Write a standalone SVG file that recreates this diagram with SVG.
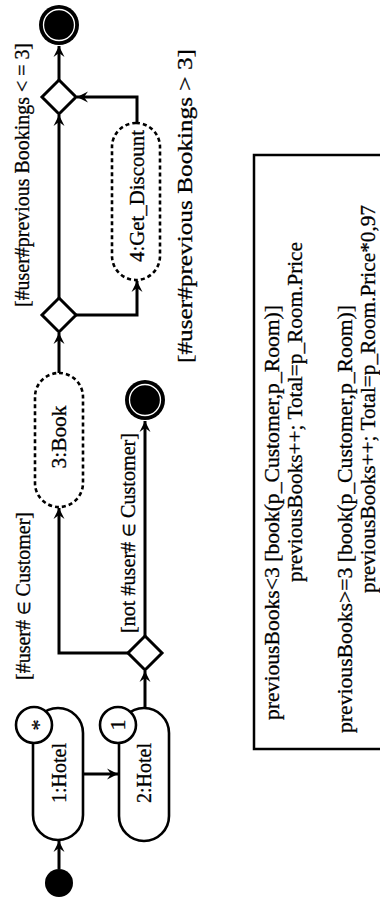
<svg xmlns="http://www.w3.org/2000/svg" width="380" height="917" viewBox="0 0 380 917">
<style>
text{font-family:"Liberation Serif","Times New Roman",serif;font-size:22px;fill:#000;stroke:#000;stroke-width:0.3}
.node{fill:#fff;stroke:#000;stroke-width:2.6}
.dash{fill:#fff;stroke:#000;stroke-width:2.6;stroke-dasharray:4 3}
.dia{fill:#fff;stroke:#000;stroke-width:3}
.conn{fill:none;stroke:#000;stroke-width:3;marker-end:url(#arr)}
.c{text-anchor:middle}
.sm{font-size:17px}
</style>
<defs>
<marker id="arr" markerUnits="userSpaceOnUse" markerWidth="14" markerHeight="14" viewBox="-12 -7 14 14" refX="0" refY="0" orient="auto">
<path d="M0,0 L-11,-5.5 L-7,0 L-11,5.5 Z" fill="#000"/>
</marker>
</defs>
<rect width="380" height="917" fill="#fff"/>

<g id="connectors">
<path class="conn" d="M59,869 V841"/>
<path class="conn" d="M83,774 H118"/>
<path class="conn" d="M145,708 V671"/>
<path class="conn" d="M128,653 H59 V508"/>
<path class="conn" d="M145,636 V421"/>
<path class="conn" d="M59,373 V333"/>
<path class="conn" d="M59,298 V115"/>
<path class="conn" d="M76,315 H137 V281"/>
<path class="conn" d="M137,123 V97 H77"/>
<path class="conn" d="M59,80 V46"/>
</g>

<g id="initial">
<circle cx="59" cy="883" r="14" fill="#000"/>
</g>

<g id="hotel1">
<rect class="node" x="33" y="708" width="50" height="132" rx="25"/>
<text class="c" transform="translate(66,773) rotate(-90)" textLength="60" lengthAdjust="spacingAndGlyphs">1:Hotel</text>
<circle class="node" cx="34" cy="725" r="18"/>
<text class="c" transform="translate(46,725) rotate(-90)">*</text>
</g>

<g id="hotel2">
<rect class="node" x="119" y="708" width="50" height="133" rx="25"/>
<text class="c" transform="translate(151,773) rotate(-90)" textLength="60" lengthAdjust="spacingAndGlyphs">2:Hotel</text>
<circle class="node" cx="118" cy="725" r="18"/>
<text class="c" transform="translate(125,725) rotate(-90)">1</text>
</g>

<g id="decision1">
<path class="dia" d="M145,636 L162,653 L145,670 L128,653 Z"/>
</g>

<g id="final1">
<circle cx="145" cy="400" r="20" fill="#000"/>
<circle cx="145" cy="400" r="15.5" fill="none" stroke="#fff" stroke-width="1.3"/>
</g>

<g id="book">
<rect class="dash" x="35" y="373" width="48" height="134" rx="24"/>
<text class="c" transform="translate(66,437) rotate(-90)" textLength="63" lengthAdjust="spacingAndGlyphs">3:Book</text>
</g>

<g id="decision2">
<path class="dia" d="M59,298 L76,315 L59,332 L42,315 Z"/>
</g>

<g id="discount">
<rect class="dash" x="112" y="123" width="48" height="157" rx="24"/>
<text class="c" transform="translate(144,196) rotate(-90)" textLength="132" lengthAdjust="spacingAndGlyphs">4:Get_Discount</text>
</g>

<g id="decision3">
<path class="dia" d="M59,80 L76,97 L59,114 L42,97 Z"/>
</g>

<g id="final2">
<circle cx="59" cy="25" r="20" fill="#000"/>
<circle cx="59" cy="25" r="15.5" fill="none" stroke="#fff" stroke-width="1.3"/>
</g>

<g id="labels">
<text class="c" transform="translate(30,596) rotate(-90)" textLength="168" lengthAdjust="spacingAndGlyphs">[#user# <tspan class="sm">∈</tspan> Customer]</text>
<text class="c" transform="translate(135,533) rotate(-90)" textLength="200" lengthAdjust="spacingAndGlyphs">[not #user# <tspan class="sm">∈</tspan> Customer]</text>
<text class="c" transform="translate(29,175) rotate(-90)" textLength="264" lengthAdjust="spacingAndGlyphs">[#user#previous Bookings &lt; = 3]</text>
<text class="c" transform="translate(192,206) rotate(-90)" textLength="314" lengthAdjust="spacingAndGlyphs">[#user#previous Bookings &gt; 3]</text>
</g>

<g id="note">
<rect x="254" y="155" width="140" height="594" fill="none" stroke="#000" stroke-width="2.5"/>
<text transform="translate(279,720) rotate(-90)" textLength="415" lengthAdjust="spacingAndGlyphs">previousBooks&lt;3 [book(p_Customer,p_Room)]</text>
<text transform="translate(302,582) rotate(-90)" textLength="340" lengthAdjust="spacingAndGlyphs">previousBooks++; Total=p_Room.Price</text>
<text transform="translate(352,733) rotate(-90)" textLength="428" lengthAdjust="spacingAndGlyphs">previousBooks&gt;=3 [book(p_Customer,p_Room)]</text>
<text transform="translate(375,593) rotate(-90)" textLength="388" lengthAdjust="spacingAndGlyphs">previousBooks++; Total=p_Room.Price*0,97</text>
</g>
</svg>
